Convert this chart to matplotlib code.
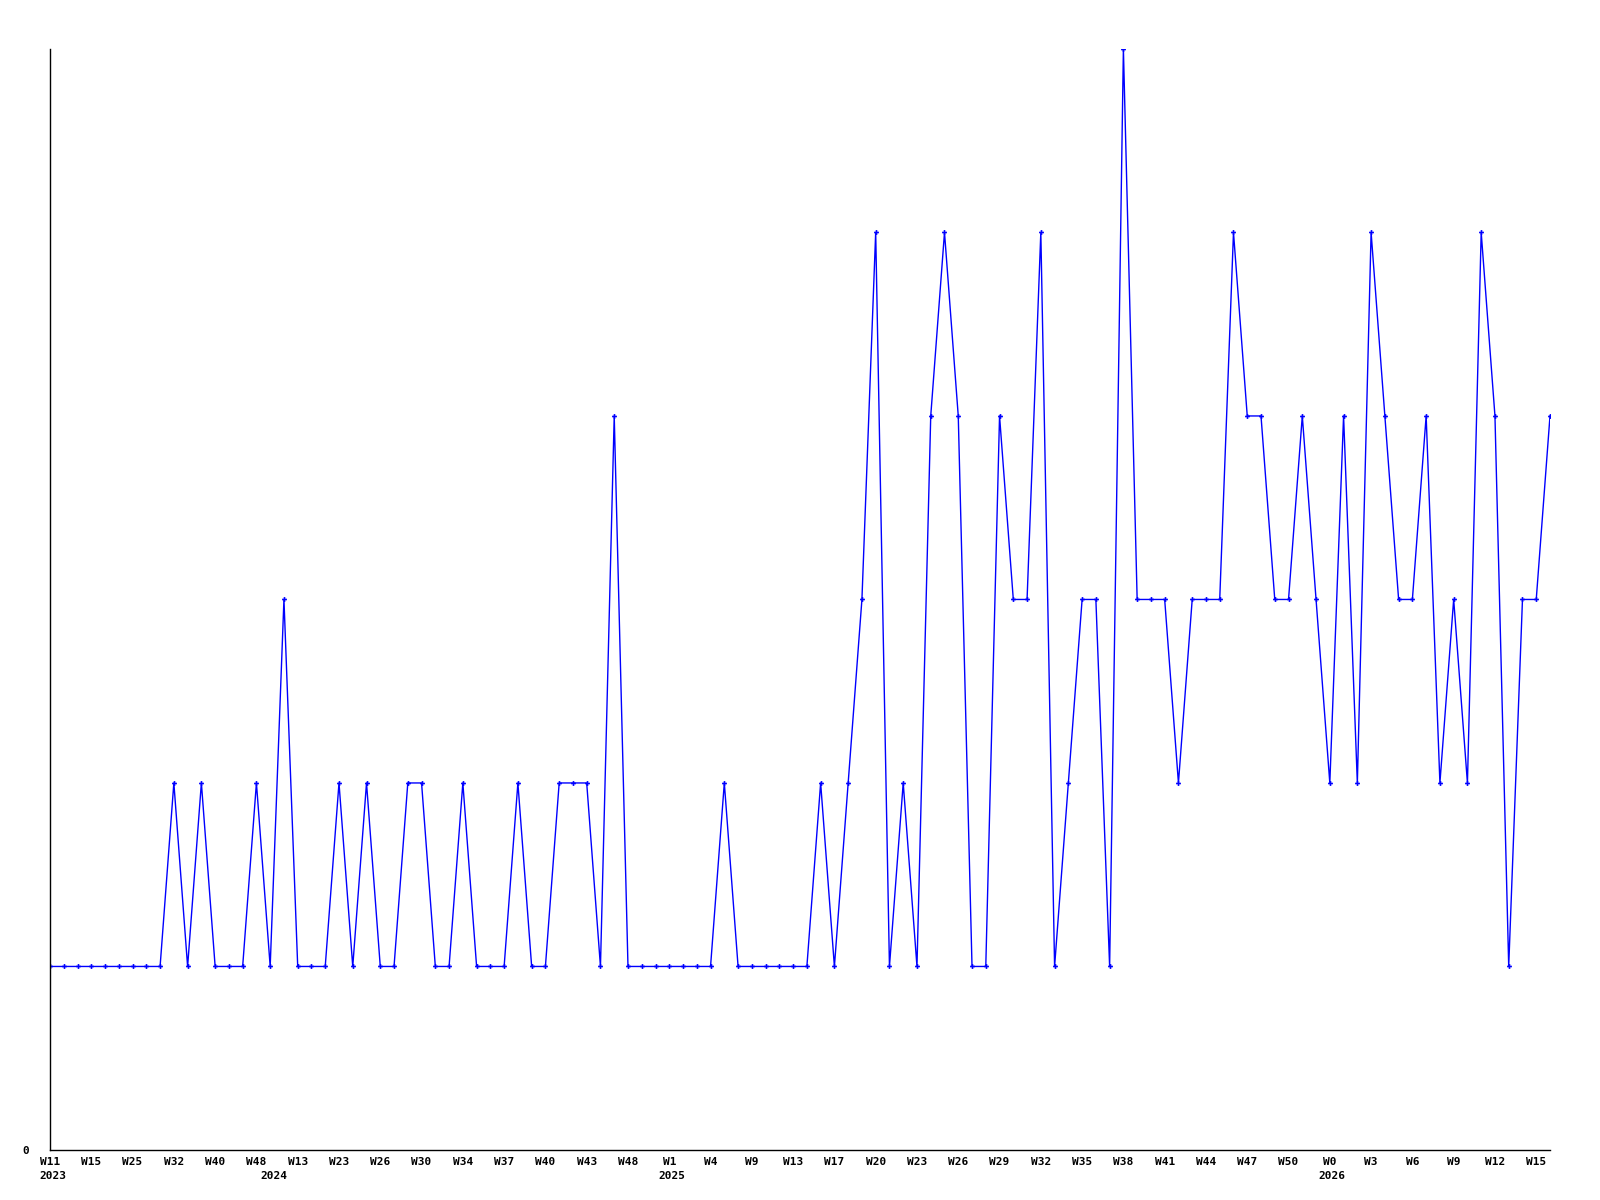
import matplotlib
matplotlib.use("Agg")
import matplotlib.pyplot as plt
import matplotlib.transforms as mtransforms

# ---- data ----
values = [
    1, 1, 1, 1, 1, 1, 1, 1, 1, 2,
    1, 2, 1, 1, 1, 2, 1, 3, 1, 1,
    1, 2, 1, 2, 1, 1, 2, 2, 1, 1,
    2, 1, 1, 1, 2, 1, 1, 2, 2, 2,
    1, 4, 1, 1, 1, 1, 1, 1, 1, 2,
    1, 1, 1, 1, 1, 1, 2,
    1, 2, 3, 5, 1, 2, 1, 4, 5, 4, 1, 1, 4, 3, 3, 5, 1, 2, 3, 3, 1, 6, 3, 3, 3, 2, 3,
    3, 3, 5, 4, 4, 3, 3, 4, 3, 2, 4, 2, 5, 4, 3, 3, 4, 2, 3, 2, 5, 4, 1, 3, 3, 4,
]
week_labels = [
    "W11", "W15", "W25", "W32", "W40", "W48", "W13", "W23", "W26", "W30",
    "W34", "W37", "W40", "W43", "W48", "W1", "W4", "W9", "W13", "W17",
    "W20", "W23", "W26", "W29", "W32", "W35", "W38", "W41", "W44", "W47",
    "W50", "W0", "W3", "W6", "W9", "W12", "W15",
]
year_labels = ["2023", "2024", "2025", "2026"]
year_label_index = [0, 16.1, 45, 93]

# ---- layout ----
label_step = 3
fig = plt.figure(figsize=(16, 12), dpi=100)
ax = fig.add_axes([0.03125, 0.0417, 0.9375, 0.9175])

x = list(range(len(values)))
ax.plot(x, values, color="#0000ff", linewidth=1.0, marker="P",
        markersize=3.5, markeredgewidth=0)

ax.set_xlim(0, len(values) - 1)
ax.set_ylim(0, 6)

for s in ["top", "right"]:
    ax.spines[s].set_visible(False)
for s in ["left", "bottom"]:
    ax.spines[s].set_color("black")
    ax.spines[s].set_linewidth(1.0)

font = dict(family="DejaVu Sans Mono", weight="bold", size=8)

ax.set_xticks(x[::label_step][:len(week_labels)])
ax.set_xticklabels(week_labels, **font)
ax.tick_params(axis="x", length=0, pad=5)
ax.set_yticks([0])
ax.set_yticklabels(["0"], **font)
ax.tick_params(axis="y", length=0, pad=15)

trans = mtransforms.blended_transform_factory(ax.transData, ax.transAxes)
offset = mtransforms.ScaledTranslation(-11 / 100, 0, fig.dpi_scale_trans)
for lbl, xi in zip(year_labels, year_label_index):
    ax.text(xi, -0.024, lbl, transform=trans + offset, ha="left", va="center", **font)

fig.savefig("out.png", dpi=100, facecolor="white")
